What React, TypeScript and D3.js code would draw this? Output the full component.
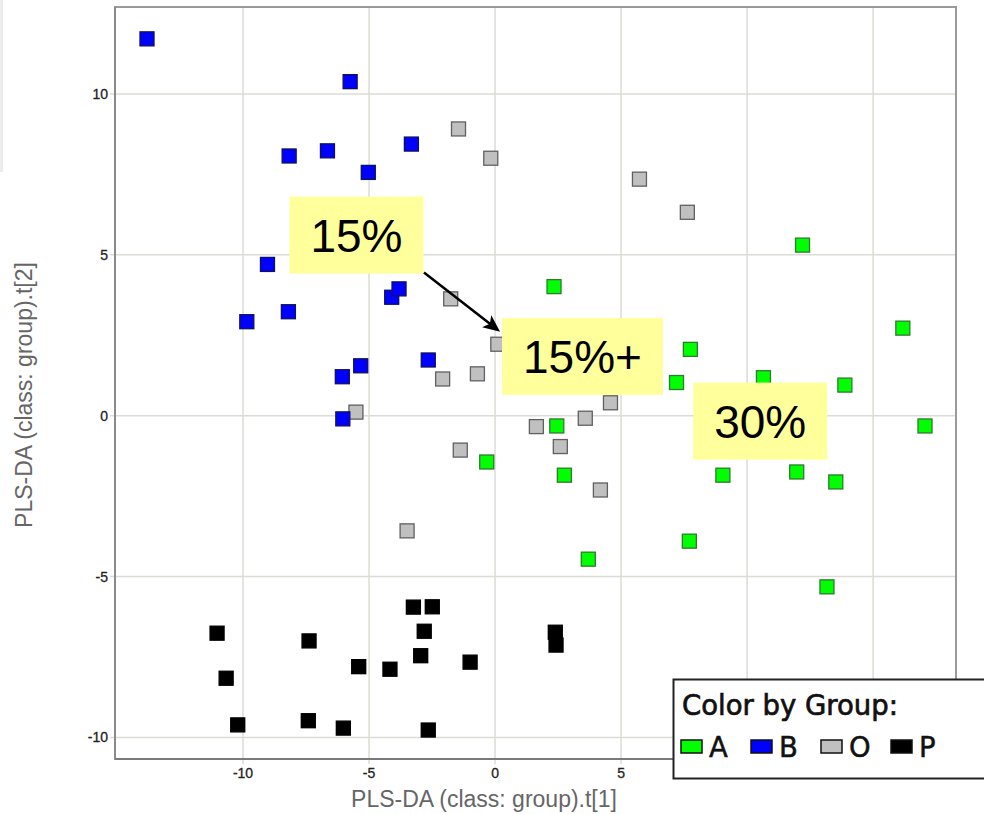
import React, { useEffect, useRef } from "react";
import * as d3 from "d3";

// PLS-DA score plot: t[1] vs t[2], coloured by group
const groupA: [number, number][] = [
  [12.2, 5.3], [2.34, 4.01], [16.18, 2.72], [7.75, 2.06], [7.2, 1.03], [10.65, 1.18],
  [13.88, 0.95], [17.06, -0.32], [2.45, -0.32], [-0.33, -1.44], [2.75, -1.85],
  [9.04, -1.85], [11.97, -1.75], [13.52, -2.06], [7.71, -3.9], [3.7, -4.46], [13.17, -5.32],
];
const groupB: [number, number][] = [
  [-13.81, 11.71], [-5.75, 10.38], [-8.17, 8.07], [-6.65, 8.23], [-5.03, 7.56], [-3.32, 8.44],
  [-9.03, 4.7], [-9.85, 2.92], [-8.2, 3.23], [-4.1, 3.68], [-3.81, 3.94], [-2.65, 1.73],
  [-5.33, 1.55], [-6.06, 1.21], [-6.04, -0.1],
];
const groupO: [number, number][] = [
  [-1.45, 8.91], [-0.17, 8.0], [5.73, 7.35], [7.63, 6.32], [-1.76, 3.63], [0.11, 2.22],
  [-2.08, 1.14], [-0.7, 1.3], [-5.52, 0.11], [4.58, 0.4], [3.58, -0.08], [1.64, -0.34],
  [2.59, -0.96], [4.18, -2.31], [-1.38, -1.07], [-3.49, -3.58],
];
const groupP: [number, number][] = [
  [-11.03, -6.76], [-7.38, -7.0], [-10.67, -8.16], [-10.21, -9.61], [-7.41, -9.48],
  [-6.02, -9.71], [-5.41, -7.8], [-4.17, -7.88], [-3.24, -5.95], [-2.49, -5.94],
  [-2.81, -6.7], [-2.95, -7.46], [-0.99, -7.66], [-2.65, -9.77], [2.39, -6.73], [2.42, -7.13],
];

const groupNames = ["A", "B", "O", "P"];
const groupFill = ["#00ff00", "#0000ff", "#c0c0c0", "#000000"];
const groupStroke = ["#2f7a2f", "#101060", "#606060", "#000000"];
const drawOrder = [2, 0, 1, 3];

const xTicks = [-10, -5, 0, 5, 10, 15];
const yTicks = [-10, -5, 0, 5, 10];

// callouts in score coordinates
const callouts = [
  { label: "15%", x: -5.5, y: 5.61 },
  { label: "15%+", x: 3.47, y: 1.84 },
  { label: "30%", x: 10.52, y: -0.17 },
];
const arrowFrom: [number, number] = [-2.82, 4.45];
const arrowTo: [number, number] = [0.2, 2.61];

const W = 984;
const H = 814;
const plot = { left: 115, right: 956, top: 7, bottom: 759 };

export default function App() {
  const ref = useRef<SVGSVGElement | null>(null);

  useEffect(() => {
    document.body.style.margin = "0";
    const svg = d3.select(ref.current);
    svg.selectAll("*").remove();

    const x = d3.scaleLinear().domain([-15.08, 18.29]).range([plot.left, plot.right]);
    const y = d3.scaleLinear().domain([-10.67, 12.7]).range([plot.bottom, plot.top]);

    svg.append("rect").attr("width", W).attr("height", H).attr("fill", "#fff");
    svg.append("rect").attr("x", 0).attr("y", 0).attr("width", 3).attr("height", 172).attr("fill", "#ececec");

    // grid
    const grid = svg.append("g");
    grid.selectAll("line.gx").data(xTicks).join("line")
      .attr("x1", (d) => x(d)).attr("x2", (d) => x(d))
      .attr("y1", plot.top).attr("y2", plot.bottom + 5)
      .attr("stroke", "#dcdcd6").attr("stroke-width", 1.5);
    grid.selectAll("line.gy").data(yTicks).join("line")
      .attr("y1", (d) => y(d)).attr("y2", (d) => y(d))
      .attr("x1", plot.left - 5).attr("x2", plot.right)
      .attr("stroke", "#dcdcd6").attr("stroke-width", 1.5);

    // frame
    svg.append("rect")
      .attr("x", plot.left).attr("y", plot.top)
      .attr("width", plot.right - plot.left).attr("height", plot.bottom - plot.top)
      .attr("fill", "none").attr("stroke", "#9a9a9a").attr("stroke-width", 2);
    svg.append("line").attr("x1", plot.left).attr("x2", plot.right)
      .attr("y1", plot.bottom).attr("y2", plot.bottom).attr("stroke", "#7a7a7a").attr("stroke-width", 2);
    svg.append("line").attr("x1", plot.left).attr("x2", plot.left)
      .attr("y1", plot.top).attr("y2", plot.bottom).attr("stroke", "#8a8a8a").attr("stroke-width", 2);

    // tick labels
    const tickFont = "'Liberation Sans', Arial, sans-serif";
    svg.append("g").selectAll("text").data(xTicks).join("text")
      .attr("x", (d) => x(d)).attr("y", 778)
      .attr("text-anchor", "middle").attr("font-family", tickFont).attr("font-size", 14)
      .attr("fill", "#222").attr("stroke", "#222").attr("stroke-width", 0.3).text((d) => String(d));
    svg.append("g").selectAll("text").data(yTicks).join("text")
      .attr("x", 108).attr("y", (d) => y(d) + 5)
      .attr("text-anchor", "end").attr("font-family", tickFont).attr("font-size", 14)
      .attr("fill", "#222").attr("stroke", "#222").attr("stroke-width", 0.3).text((d) => String(d));

    // axis titles
    svg.append("text").attr("x", 484).attr("y", 807)
      .attr("text-anchor", "middle").attr("font-family", tickFont).attr("font-size", 23)
      .attr("fill", "#666").text("PLS-DA (class: group).t[1]");
    svg.append("text").attr("transform", "translate(32,395) rotate(-90)")
      .attr("text-anchor", "middle").attr("font-family", tickFont).attr("font-size", 23)
      .attr("fill", "#666").text("PLS-DA (class: group).t[2]");

    // points
    const groups = [groupA, groupB, groupO, groupP];
    const s = 14;
    drawOrder.forEach((gi) => {
      svg.append("g").selectAll("rect").data(groups[gi]).join("rect")
        .attr("x", (d) => x(d[0]) - s / 2).attr("y", (d) => y(d[1]) - s / 2)
        .attr("width", s).attr("height", s)
        .attr("fill", groupFill[gi]).attr("stroke", groupStroke[gi]).attr("stroke-width", 1.3);
    });

    // callouts
    const cg = svg.append("g");
    callouts.forEach((c) => {
      const g = cg.append("g");
      const t = g.append("text")
        .attr("x", x(c.x)).attr("y", y(c.y) + 16.5)
        .attr("text-anchor", "middle").attr("font-family", tickFont).attr("font-size", 46)
        .attr("fill", "#000").text(c.label);
      const tw = (t.node() as SVGTextElement).getComputedTextLength();
      const bw = tw + 42;
      const bh = 77;
      g.insert("rect", "text")
        .attr("x", x(c.x) - bw / 2).attr("y", y(c.y) - bh / 2)
        .attr("width", bw).attr("height", bh).attr("fill", "#ffff9c");
    });

    // arrow: shaft plus a filled head at the tip
    const x1 = x(arrowFrom[0]), y1 = y(arrowFrom[1]);
    const x2 = x(arrowTo[0]), y2 = y(arrowTo[1]);
    const ang = Math.atan2(y2 - y1, x2 - x1);
    const headLen = 17, headHalf = 7.5;
    const bx = x2 - headLen * Math.cos(ang), by = y2 - headLen * Math.sin(ang);
    svg.append("line")
      .attr("x1", x1).attr("y1", y1)
      .attr("x2", x2 - 8 * Math.cos(ang)).attr("y2", y2 - 8 * Math.sin(ang))
      .attr("stroke", "#000").attr("stroke-width", 2.5);
    const px = -Math.sin(ang), py = Math.cos(ang);
    const head = d3.path();
    head.moveTo(x2, y2);
    head.lineTo(bx + headHalf * px, by + headHalf * py);
    head.lineTo(bx + 4 * Math.cos(ang), by + 4 * Math.sin(ang));
    head.lineTo(bx - headHalf * px, by - headHalf * py);
    head.closePath();
    svg.append("path").attr("d", head.toString()).attr("fill", "#000");

    // legend
    const lg = svg.append("g");
    lg.append("rect").attr("x", 673.5).attr("y", 679.5).attr("width", 320).attr("height", 99)
      .attr("fill", "#fff").attr("stroke", "#222").attr("stroke-width", 2);
    const lf = "'DejaVu Sans', Verdana, sans-serif";
    lg.append("text").attr("x", 682).attr("y", 715).attr("font-family", lf).attr("font-size", 27.5)
      .attr("fill", "#111").attr("stroke", "#111").attr("stroke-width", 0.7).text("Color by Group:");
    groupNames.forEach((n, i) => {
      const lx = 681 + i * 70;
      lg.append("rect").attr("x", lx).attr("y", 740).attr("width", 21).attr("height", 13)
        .attr("fill", groupFill[i]).attr("stroke", "#111").attr("stroke-width", 1.5);
      lg.append("text").attr("x", lx + 28).attr("y", 757).attr("font-family", lf).attr("font-size", 27.5)
        .attr("fill", "#111").attr("stroke", "#111").attr("stroke-width", 0.5).text(n);
    });
  }, []);

  return <svg ref={ref} width={W} height={H} style={{ display: "block" }} />;
}
